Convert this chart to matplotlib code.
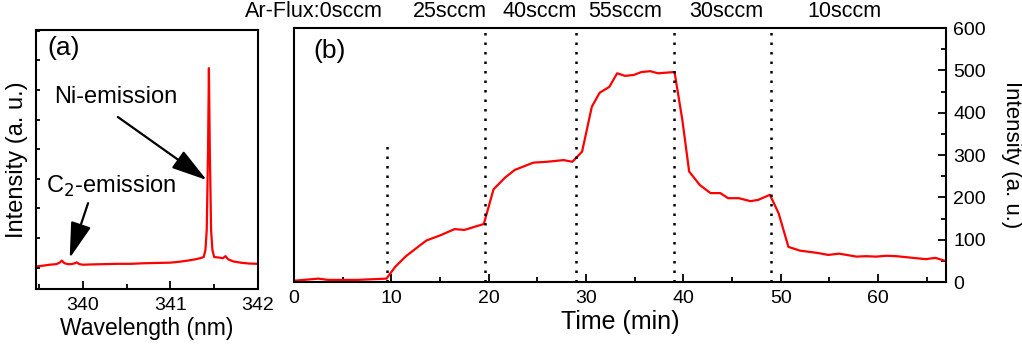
import matplotlib
matplotlib.use("Agg")
import matplotlib.pyplot as plt
from matplotlib.ticker import MultipleLocator, NullFormatter

plt.rcParams['font.family'] = ['Liberation Sans', 'DejaVu Sans']

# (a) emission spectrum around the Ni line
wavelength = [339.47, 339.55, 339.62, 339.70, 339.74, 339.76, 339.79, 339.83, 339.87,
              339.91, 339.93, 339.96, 340.00, 340.10, 340.25, 340.40, 340.55, 340.70,
              340.85, 341.00, 341.10, 341.20, 341.28, 341.34, 341.38, 341.40, 341.415,
              341.43, 341.44, 341.45, 341.465, 341.48, 341.50, 341.53, 341.56, 341.60,
              341.63, 341.66, 341.72, 341.80, 341.90, 342.00]
spectrum = [-960, -930, -900, -880, -820, -760, -850, -880, -880,
            -850, -820, -880, -900, -890, -880, -870, -870, -850,
            -840, -830, -800, -760, -720, -680, -640, -405, 270,
            2970, 5740, 2970, 270, -405, -640, -650, -660, -680,
            -610, -720, -790, -830, -860, -870]

# (b) Ni emission intensity vs time for the Ar flux sequence
time_min = [0, 2.5, 3.5, 5, 6.5, 9.5, 10.4, 11.5, 12.4, 13.6, 15.0, 16.5, 17.5, 19.5,
            20.5, 21.7, 22.7, 24.6, 26.0, 27.7, 28.6, 29.6, 30.6, 31.4, 32.4, 33.2,
            34.0, 34.9, 35.7, 36.6, 37.4, 39.1, 39.9, 40.6, 41.7, 42.8, 43.8, 44.6,
            45.7, 46.9, 47.7, 48.9, 49.8, 50.8, 52.0, 53.7, 54.9, 56.0, 57.8, 58.8,
            59.8, 60.9, 61.9, 64.9, 65.9, 66.9]
intensity = [3, 8, 5, 5, 5, 8, 36, 61, 77, 98, 110, 125, 123, 137,
             219, 247, 265, 282, 284, 288, 284, 308, 414, 447, 461, 493,
             487, 489, 496, 498, 493, 496, 383, 261, 229, 210, 210, 198,
             198, 191, 194, 206, 162, 83, 74, 69, 64, 67, 60, 61,
             60, 62, 61, 54, 57, 50]

flux_change = [9.55, 19.6, 29.0, 39.0, 49.0]
flux_change_top = [328, 600, 600, 600, 600]
flux_labels = ['Ar-Flux:0sccm', '25sccm', '40sccm', '55sccm', '30sccm', '10sccm']
flux_label_x = [2.0, 16.0, 25.2, 34.0, 44.4, 56.6]

fig = plt.figure(figsize=(10.22, 3.44), dpi=100)
ax_a = fig.add_axes([0.0352, 0.1599, 0.2172, 0.753])
ax_b = fig.add_axes([0.2877, 0.1802, 0.638, 0.7384])

red = '#ff0000'

# ---- panel (a)
ax_a.plot(wavelength, spectrum, color=red, lw=1.6)
ax_a.set_xlim(339.465, 342)
ax_a.set_ylim(-1720, 7030)
ax_a.xaxis.set_major_locator(MultipleLocator(1))
ax_a.xaxis.set_minor_locator(MultipleLocator(0.5))
ax_a.yaxis.set_major_locator(MultipleLocator(1000))
ax_a.yaxis.set_major_formatter(NullFormatter())
ax_a.tick_params(axis='x', which='both', direction='in', top=False, labelsize=14, pad=6)
ax_a.tick_params(axis='x', which='major', length=6, width=1.3)
ax_a.tick_params(axis='x', which='minor', length=3.5, width=1.3)
ax_a.tick_params(axis='y', which='both', direction='in', right=False, length=3, width=1.3)
ax_a.set_xlabel('Wavelength (nm)', fontsize=16.5, labelpad=2)
ax_a.set_ylabel('Intensity (a. u.)', fontsize=17, labelpad=2)
ax_a.text(0.05, 0.93, '(a)', transform=ax_a.transAxes, fontsize=19, va='center', ha='left')

arrow = dict(arrowstyle='-|>,head_length=1.1,head_width=0.32', color='black', lw=1.6,
             mutation_scale=20, shrinkA=0, shrinkB=0)
ax_a.text(340.38, 4760, 'Ni-emission', fontsize=17, ha='center', va='center')
ax_a.annotate('', xy=(341.415, 1960), xytext=(340.40, 4090), arrowprops=arrow)
ax_a.text(339.58, 1760, 'C$_2$-emission', fontsize=17, ha='left', va='center')
ax_a.annotate('', xy=(339.85, -675), xytext=(340.06, 1180), arrowprops=arrow)

# ---- panel (b)
ax_b.plot(time_min, intensity, color=red, lw=1.6)
for x, top in zip(flux_change, flux_change_top):
    ax_b.plot([x, x], [0, top], color='black', lw=1.8, dashes=(1, 2.8))
for x, label in zip(flux_label_x, flux_labels):
    ax_b.text(x, 1.063, label, transform=ax_b.get_xaxis_transform(),
              fontsize=15.5, ha='center', va='center')
ax_b.set_xlim(0, 67)
ax_b.set_ylim(0, 600)
ax_b.xaxis.set_major_locator(MultipleLocator(10))
ax_b.xaxis.set_minor_locator(MultipleLocator(5))
ax_b.yaxis.set_major_locator(MultipleLocator(100))
ax_b.yaxis.set_minor_locator(MultipleLocator(50))
ax_b.yaxis.tick_right()
ax_b.yaxis.set_label_position('right')
ax_b.tick_params(axis='both', which='both', direction='in', labelsize=14)
ax_b.tick_params(axis='x', which='both', top=False, pad=6)
ax_b.tick_params(axis='y', which='both', left=False, right=True, pad=5)
ax_b.tick_params(which='major', length=6, width=1.3)
ax_b.tick_params(which='minor', length=3.5, width=1.3)
ax_b.set_xlabel('Time (min)', fontsize=18, labelpad=2)
ax_b.set_ylabel('Intensity (a. u.)', fontsize=16, rotation=270, labelpad=26)
ax_b.text(0.03, 0.91, '(b)', transform=ax_b.transAxes, fontsize=19, va='center', ha='left')

for ax in (ax_a, ax_b):
    for spine in ax.spines.values():
        spine.set_linewidth(1.5)

fig.savefig('out.png', dpi=100)
